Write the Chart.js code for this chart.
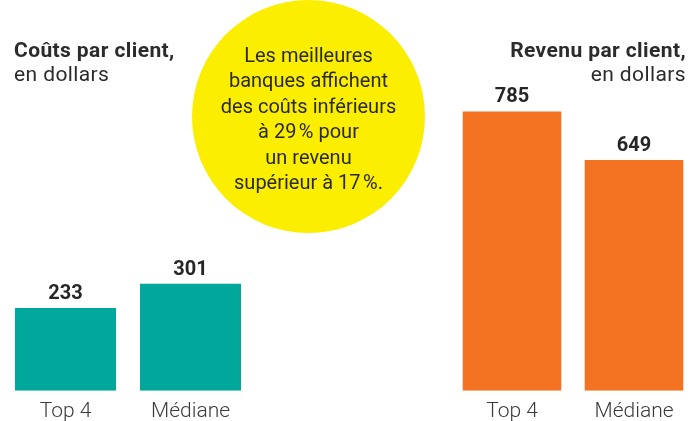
<!DOCTYPE html>
<html lang="fr">
<head>
<meta charset="utf-8">
<script src="https://cdn.jsdelivr.net/npm/chart.js@4"></script>
<style>
  html, body { margin: 0; padding: 0; background: #fff; }
  body { width: 689px; height: 421px; overflow: hidden; position: relative; font-family: Roboto, "Noto Sans", sans-serif; color: #2b2b2b; }
  .box { position: absolute; }
  #leftBox { left: 0; top: 0; width: 256px; height: 432px; }
  #rightBox { left: 448px; top: 0; width: 250px; height: 432px; }
  .title { position: absolute; font-size: 21px; line-height: 24px; letter-spacing: 0.4px; }
  .title b { font-weight: 700; }
  #leftTitle { left: 14px; top: 38px; }
  #rightTitle { right: 3px; top: 38px; text-align: right; }
  #bubble {
    position: absolute; left: 192px; top: 0; width: 233px; height: 233px;
    border-radius: 50%; background: #fcee00;
    display: flex; align-items: center; justify-content: center;
    text-align: center; font-size: 20px; line-height: 25.5px; color: #2a2a22;
  }
  #bubble span { display: block; margin-top: 5px; }
</style>
</head>
<body>
<div class="box" id="leftBox"><canvas id="costChart"></canvas></div>
<div class="box" id="rightBox"><canvas id="revChart"></canvas></div>

<div class="title" id="leftTitle"><b>Coûts par client,</b><br>en dollars</div>
<div class="title" id="rightTitle"><b>Revenu par client,</b><br>en dollars</div>

<div id="bubble"><span>Les meilleures<br>banques affichent<br>des coûts inférieurs<br>à 29&#8239;% pour<br>un revenu<br>supérieur à 17&#8239;%.</span></div>

<script>
// categories shared by both panels
const categories = ['Top 4', 'Médiane'];
// costs per client, dollars
const costValues = [233, 301];
// revenue per client, dollars
const revenueValues = [785, 649];

const TEAL = '#00a89c';
const ORANGE = '#f47322';

// draws the bold number above each bar
const valueLabels = {
    id: 'valueLabels',
    afterDatasetsDraw(chart) {
        const ctx = chart.ctx;
        const meta = chart.getDatasetMeta(0);
        ctx.save();
        ctx.font = '700 20px Roboto, "Noto Sans", sans-serif';
        ctx.fillStyle = '#262626';
        ctx.textAlign = 'center';
        ctx.textBaseline = 'bottom';
        meta.data.forEach((bar, i) => {
            ctx.fillText(chart.data.datasets[0].data[i], bar.x, bar.y - 4);
        });
        ctx.restore();
    }
};

function makeChart(id, values, color) {
    const el = document.getElementById(id);
    return new Chart(el, {
        type: 'bar',
        data: {
            labels: categories,
            datasets: [{
                data: values,
                backgroundColor: color,
                borderWidth: 0,
                barPercentage: 0.808,
                categoryPercentage: 1
            }]
        },
        options: {
            responsive: true,
            maintainAspectRatio: false,
            animation: false,
            layout: { padding: { top: 35, left: 3, right: 3, bottom: 0 } },
            plugins: { legend: { display: false }, tooltip: { enabled: false } },
            scales: {
                x: {
                    border: { display: false },
                    grid: { display: false, drawTicks: false },
                    ticks: {
                        padding: 8,
                        color: '#3a3a3a',
                        font: { family: 'Roboto, "Noto Sans", sans-serif', size: 21, weight: 300 }
                    }
                },
                y: { display: false, min: 0, max: 1000 }
            }
        },
        plugins: [valueLabels]
    });
}

makeChart('costChart', costValues, TEAL);
makeChart('revChart', revenueValues, ORANGE);
</script>
</body>
</html>
